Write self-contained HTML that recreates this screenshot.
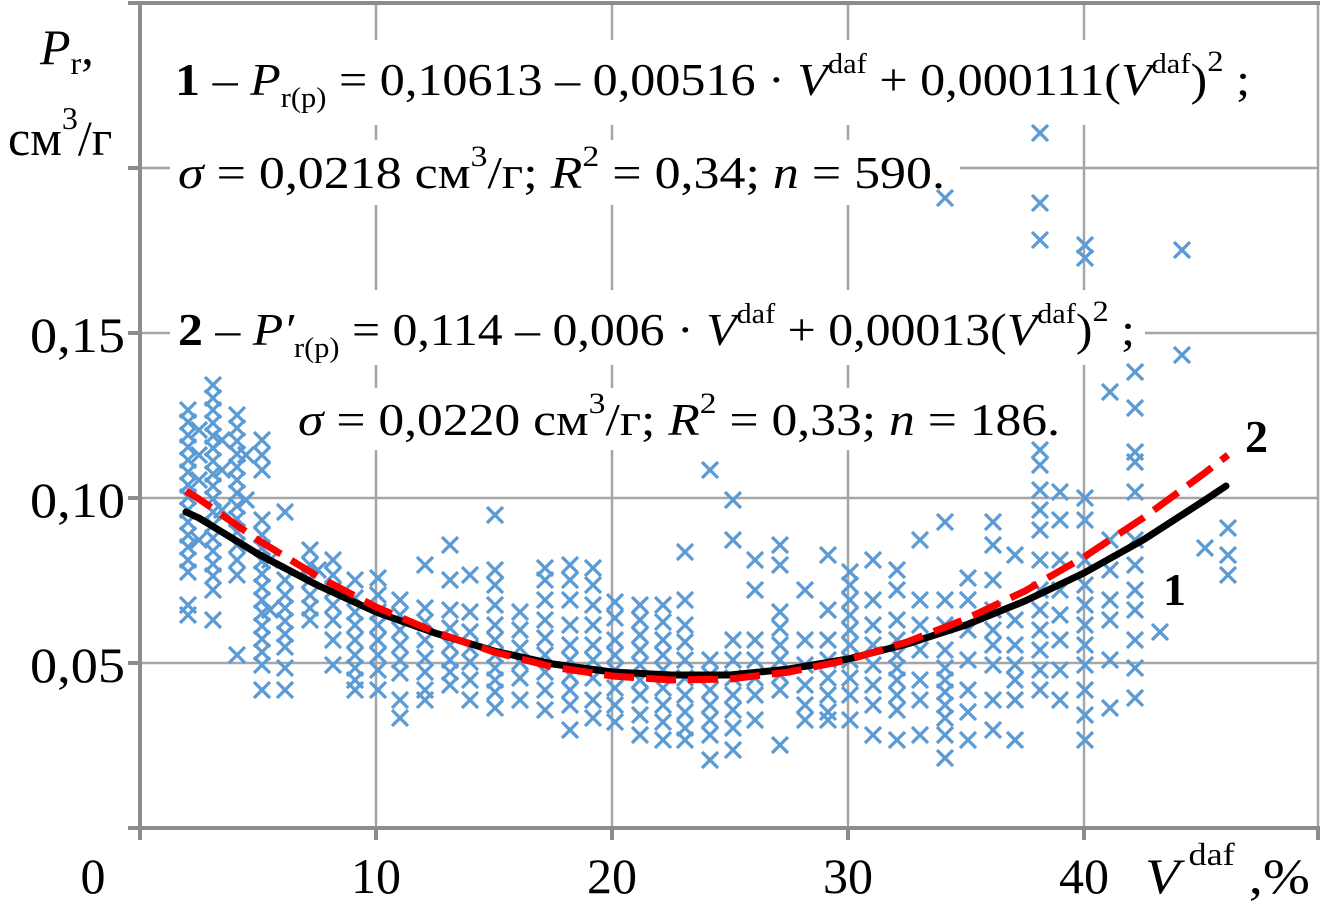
<!DOCTYPE html>
<html><head><meta charset="utf-8"><style>
html,body{margin:0;padding:0;background:#fff}
svg{display:block}
text{font-family:"Liberation Serif",serif;fill:#000}
</style></head><body>
<svg width="1325" height="916" viewBox="0 0 1325 916" xmlns="http://www.w3.org/2000/svg">
<defs>
<marker id="x" viewBox="-10 -10 20 20" markerWidth="20" markerHeight="20" markerUnits="userSpaceOnUse" refX="0" refY="0" overflow="visible">
<path d="M-8-8L8 8M8-8L-8 8" stroke="#5b9bd5" stroke-width="3.3" fill="none"/>
</marker>
</defs>
<g stroke="#a6a6a6" stroke-width="2.5">
<line x1="376" y1="3" x2="376" y2="828"/><line x1="612" y1="3" x2="612" y2="828"/>
<line x1="848" y1="3" x2="848" y2="828"/><line x1="1084" y1="3" x2="1084" y2="828"/>
<line x1="140" y1="168" x2="1318" y2="168"/><line x1="140" y1="333" x2="1318" y2="333"/>
<line x1="140" y1="498" x2="1318" y2="498"/><line x1="140" y1="663" x2="1318" y2="663"/>
<line x1="1318" y1="3" x2="1318" y2="828"/>
</g>
<g fill="#fff">
<rect x="170" y="40" width="1090" height="85"/>
<rect x="170" y="140" width="790" height="65"/>
<rect x="170" y="290" width="975" height="75"/>
<rect x="290" y="388" width="780" height="62"/>
</g>
<g fill="none" stroke="none" marker-start="url(#x)" marker-mid="url(#x)" marker-end="url(#x)">
<polyline points="188,410 188,422 188,435 188,447 188,460 188,472 188,485 188,497 188,510 188,522 188,535 188,547 188,560 188,572 188,605 188,615 199,430 199,455 199,480 199,540"/>
<polyline points="213,385 213,398 213,410 213,423 213,436 213,448 213,461 213,474 213,486 213,499 213,512 213,525 213,538 213,551 213,564 213,576 213,590 213,620 222,440 222,470 222,510"/>
<polyline points="237,415 237,428 237,441 237,454 237,467 237,480 237,493 237,506 237,519 237,532 237,545 237,560 237,575 237,655 246,455 246,500"/>
<polyline points="262,440 262,455 262,470 262,520 262,535 262,548 262,561 262,574 262,587 262,600 262,613 262,626 262,639 262,652 262,665 262,690 270,560 270,610"/>
<polyline points="285,512 285,580 285,595 285,608 285,621 285,634 285,647 285,668 285,690"/>
<polyline points="310,550 310,565 310,580 310,595 310,608 310,620 318,570"/>
<polyline points="333,560 333,575 333,590 333,605 333,620 333,640 333,665"/>
<polyline points="355,580 355,598 355,612 355,625 355,640 355,655 355,668 355,680 355,690"/>
<polyline points="378,578 378,595 378,612 378,625 378,640 378,655 378,670 378,690"/>
<polyline points="400,600 400,615 400,630 400,645 400,660 400,673 400,700 400,718"/>
<polyline points="425,565 425,608 425,622 425,640 425,658 425,672 425,690 425,700"/>
<polyline points="450,545 450,580 450,610 450,628 450,645 450,660 450,672 450,685"/>
<polyline points="470,575 470,612 470,632 470,648 470,662 470,680 470,700"/>
<polyline points="495,515 495,570 495,585 495,605 495,625 495,640 495,655 495,668 495,680 495,692 495,708"/>
<polyline points="520,612 520,630 520,648 520,662 520,678 520,700"/>
<polyline points="545,568 545,580 545,600 545,620 545,638 545,655 545,672 545,690 545,710"/>
<polyline points="570,565 570,580 570,600 570,625 570,645 570,660 570,675 570,690 570,705 570,730"/>
<polyline points="593,568 593,585 593,605 593,625 593,645 593,660 593,678 593,700 593,718"/>
<polyline points="615,602 615,618 615,640 615,655 615,670 615,688 615,705 615,722"/>
<polyline points="640,605 640,620 640,635 640,650 640,665 640,680 640,695 640,715 640,735"/>
<polyline points="663,605 663,622 663,640 663,655 663,670 663,688 663,705 663,722 663,740"/>
<polyline points="685,552 685,600 685,625 685,642 685,660 685,678 685,695 685,712 685,728 685,740"/>
<polyline points="710,470 710,660 710,675 710,690 710,705 710,720 710,735 710,760"/>
<polyline points="733,500 733,540 733,640 733,660 733,678 733,695 733,710 733,728 733,750"/>
<polyline points="755,560 755,590 755,640 755,660 755,678 755,695 755,720"/>
<polyline points="780,545 780,565 780,612 780,628 780,645 780,660 780,675 780,690 780,745"/>
<polyline points="805,590 805,640 805,665 805,685 805,705 805,720"/>
<polyline points="828,555 828,610 828,640 828,660 828,678 828,695 828,712 828,720"/>
<polyline points="850,572 850,585 850,600 850,615 850,630 850,645 850,660 850,678 850,695 850,720"/>
<polyline points="873,560 873,600 873,625 873,645 873,665 873,685 873,705 873,735"/>
<polyline points="897,570 897,590 897,620 897,640 897,655 897,668 897,680 897,695 897,710 897,740"/>
<polyline points="920,540 920,600 920,625 920,650 920,680 920,700 920,735"/>
<polyline points="945,522 945,600 945,625 945,650 945,668 945,680 945,692 945,705 945,718 945,735 945,758"/>
<polyline points="968,578 968,600 968,630 968,660 968,690 968,712 968,740"/>
<polyline points="993,522 993,545 993,580 993,610 993,630 993,645 993,665 993,700 993,730"/>
<polyline points="1015,555 1015,620 1015,645 1015,665 1015,680 1015,700 1015,740"/>
<polyline points="1040,133 1040,203 1040,240 1040,450 1040,465 1040,490 1040,510 1040,530 1040,560 1040,590 1040,610 1040,630 1040,650 1040,670 1040,690"/>
<polyline points="1060,492 1060,520 1060,560 1060,590 1060,615 1060,640 1060,670 1060,700"/>
<polyline points="1085,245 1085,258 1085,498 1085,520 1085,560 1085,585 1085,605 1085,625 1085,645 1085,665 1085,690 1085,715 1085,740"/>
<polyline points="1110,392 1110,540 1110,570 1110,600 1110,620 1110,660 1110,708"/>
<polyline points="1135,372 1135,408 1135,452 1135,462 1135,492 1135,540 1135,565 1135,590 1135,610 1135,640 1135,668 1135,698"/>
<polyline points="1160,632"/>
<polyline points="1182,250 1182,355"/>
<polyline points="1205,548"/>
<polyline points="1228,528 1228,555 1228,575"/>
<polyline points="945,198"/>
</g>
<polyline fill="none" stroke="#000" stroke-width="7" stroke-linecap="round" stroke-linejoin="round" points="186,512 199,518 258,554 317,585 376,612 435,633 494,651 553,664 612,672 671,675 730,675 789,669 848,659 907,644 966,625 1025,601 1084,573 1143,540 1202,502 1226,486"/>
<polyline fill="none" stroke="#f00" stroke-width="7" stroke-dasharray="30 12" points="186,491 199,499 258,540 317,576 376,607 435,632 494,652 553,667 612,676 671,680 730,679 789,672 848,660 907,642 966,619 1025,591 1084,557 1143,518 1202,475 1228,455"/>
<g stroke="#8c8c8c" stroke-width="4">
<line x1="140" y1="3" x2="1320" y2="3"/>
<line x1="140" y1="3" x2="140" y2="830"/>
<line x1="138" y1="828" x2="1320" y2="828"/>
<line x1="128" y1="168" x2="140" y2="168"/><line x1="128" y1="333" x2="140" y2="333"/>
<line x1="128" y1="498" x2="140" y2="498"/><line x1="128" y1="663" x2="140" y2="663"/>
<line x1="128" y1="828" x2="140" y2="828"/><line x1="128" y1="3" x2="140" y2="3"/>
<line x1="140" y1="828" x2="140" y2="840"/><line x1="376" y1="828" x2="376" y2="840"/>
<line x1="612" y1="828" x2="612" y2="840"/><line x1="848" y1="828" x2="848" y2="840"/>
<line x1="1084" y1="828" x2="1084" y2="840"/><line x1="1318" y1="828" x2="1318" y2="840"/>
</g>
<g font-size="50">
<text x="30" y="352" textLength="95" lengthAdjust="spacingAndGlyphs">0,15</text>
<text x="30" y="517" textLength="95" lengthAdjust="spacingAndGlyphs">0,10</text>
<text x="30" y="682" textLength="95" lengthAdjust="spacingAndGlyphs">0,05</text>
<text x="93" y="893" text-anchor="middle">0</text>
<text x="376" y="893" text-anchor="middle">10</text>
<text x="612" y="893" text-anchor="middle">20</text>
<text x="848" y="893" text-anchor="middle">30</text>
<text x="1084" y="893" text-anchor="middle">40</text>
<text x="1145" y="893" textLength="165" lengthAdjust="spacingAndGlyphs"><tspan font-style="italic">V</tspan><tspan font-size="32" dy="-28" dx="8">daf</tspan><tspan dy="28"> ,%</tspan></text>
<text x="40" y="64"><tspan font-style="italic">P</tspan><tspan font-size="32" dy="10">r</tspan><tspan dy="-10">,</tspan></text>
<text x="8" y="155">см<tspan font-size="32" dy="-26">3</tspan><tspan dy="26">/г</tspan></text>
</g>
<g font-size="46">
<text x="175" y="95" textLength="1075" lengthAdjust="spacingAndGlyphs"><tspan font-weight="bold">1</tspan> – <tspan font-style="italic">P</tspan><tspan font-size="28" dy="12">r(p)</tspan><tspan dy="-12"> = 0,10613 – 0,00516 · </tspan><tspan font-style="italic">V</tspan><tspan font-size="28" dy="-22">daf</tspan><tspan dy="22"> + 0,000111(</tspan><tspan font-style="italic">V</tspan><tspan font-size="28" dy="-22">daf</tspan><tspan dy="22">)</tspan><tspan font-size="30" dy="-24">2</tspan><tspan dy="24"> ;</tspan></text>
<text x="178" y="188" textLength="767" lengthAdjust="spacingAndGlyphs"><tspan font-style="italic">σ</tspan> = 0,0218 см<tspan font-size="30" dy="-22">3</tspan><tspan dy="22">/г;  </tspan><tspan font-style="italic">R</tspan><tspan font-size="30" dy="-22">2</tspan><tspan dy="22"> = 0,34;  </tspan><tspan font-style="italic">n</tspan> = 590.</text>
<text x="178" y="345" textLength="957" lengthAdjust="spacingAndGlyphs"><tspan font-weight="bold">2</tspan> – <tspan font-style="italic">P′</tspan><tspan font-size="28" dy="12">r(p)</tspan><tspan dy="-12"> = 0,114 – 0,006 · </tspan><tspan font-style="italic">V</tspan><tspan font-size="28" dy="-22">daf</tspan><tspan dy="22"> + 0,00013(</tspan><tspan font-style="italic">V</tspan><tspan font-size="28" dy="-22">daf</tspan><tspan dy="22">)</tspan><tspan font-size="30" dy="-24">2</tspan><tspan dy="24"> ;</tspan></text>
<text x="298" y="435" textLength="762" lengthAdjust="spacingAndGlyphs"><tspan font-style="italic">σ</tspan> = 0,0220 см<tspan font-size="30" dy="-22">3</tspan><tspan dy="22">/г;  </tspan><tspan font-style="italic">R</tspan><tspan font-size="30" dy="-22">2</tspan><tspan dy="22"> = 0,33;  </tspan><tspan font-style="italic">n</tspan> = 186.</text>
<text x="1163" y="605" font-weight="bold">1</text>
<text x="1245" y="452" font-weight="bold">2</text>
</g>
</svg>
</body></html>
